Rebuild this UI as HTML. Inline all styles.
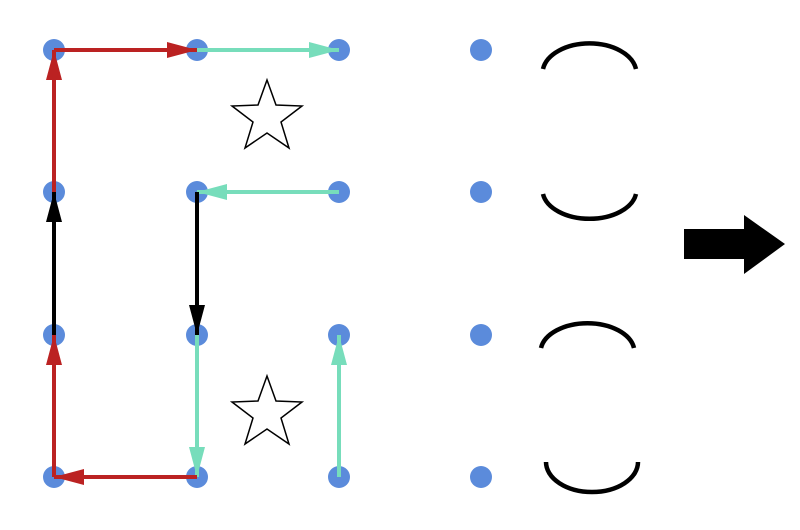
<!DOCTYPE html>
<html><head><style>html,body{margin:0;padding:0;background:#fff;}svg{display:block}</style></head>
<body>
<svg width="800" height="530" viewBox="0 0 800 530" xmlns="http://www.w3.org/2000/svg">
<defs>
<marker id="r" markerWidth="30" markerHeight="16" refX="30" refY="8" orient="auto" markerUnits="userSpaceOnUse" overflow="visible"><path d="M0,0 L30,8 L0,16 z" fill="#bb2222"/></marker>
<marker id="t" markerWidth="30" markerHeight="16" refX="30" refY="8" orient="auto" markerUnits="userSpaceOnUse" overflow="visible"><path d="M0,0 L30,8 L0,16 z" fill="#77ddbb"/></marker>
<marker id="k" markerWidth="30" markerHeight="16" refX="30" refY="8" orient="auto" markerUnits="userSpaceOnUse" overflow="visible"><path d="M0,0 L30,8 L0,16 z" fill="#000"/></marker>
</defs>
<g fill="#5b8bdb">
<circle cx="54" cy="50" r="11"/><circle cx="197" cy="50" r="11"/><circle cx="339" cy="50" r="11"/><circle cx="481" cy="50" r="11"/>
<circle cx="54" cy="192" r="11"/><circle cx="197" cy="192" r="11"/><circle cx="339" cy="192" r="11"/><circle cx="481" cy="192" r="11"/>
<circle cx="54" cy="335" r="11"/><circle cx="197" cy="335" r="11"/><circle cx="339" cy="335" r="11"/><circle cx="481" cy="335" r="11"/>
<circle cx="54" cy="477" r="11"/><circle cx="197" cy="477" r="11"/><circle cx="339" cy="477" r="11"/><circle cx="481" cy="477" r="11"/>
</g>
<g stroke-width="4" fill="none">
<line x1="54" y1="192" x2="54" y2="50" stroke="#bb2222" marker-end="url(#r)"/>
<line x1="54" y1="50" x2="197" y2="50" stroke="#bb2222" marker-end="url(#r)"/>
<line x1="197" y1="50" x2="339" y2="50" stroke="#77ddbb" marker-end="url(#t)"/>
<line x1="339" y1="192" x2="197" y2="192" stroke="#77ddbb" marker-end="url(#t)"/>
<line x1="197" y1="192" x2="197" y2="335" stroke="#000" marker-end="url(#k)"/>
<line x1="197" y1="335" x2="197" y2="477" stroke="#77ddbb" marker-end="url(#t)"/>
<line x1="339" y1="477" x2="339" y2="335" stroke="#77ddbb" marker-end="url(#t)"/>
<line x1="197" y1="477" x2="54" y2="477" stroke="#bb2222" marker-end="url(#r)"/>
<line x1="54" y1="477" x2="54" y2="335" stroke="#bb2222" marker-end="url(#r)"/>
<line x1="54" y1="335" x2="54" y2="192" stroke="#000" marker-end="url(#k)"/>
</g>
<g fill="#fff" stroke="#000" stroke-width="1.5">
<polygon points="267,80 276,105 302,106 281,122 289,148 267,133 245,148 253,122 232,106 258,105"/>
<polygon points="267,376 276,401 302,402 281,418 289,444 267,429 245,444 253,418 232,402 258,401"/>
</g>
<g stroke="#000" stroke-width="4.5" fill="none">
<path d="M543 69 A47 30 0 0 1 636 69"/>
<path d="M543 194 A47 29 0 0 0 636 194"/>
<path d="M541 348 A47 29 0 0 1 634 348"/>
<path d="M546 462 A46 30 0 0 0 638 462"/>
</g>
<polygon points="684,229 744,229 744,215 785,244 744,274 744,259 684,259" fill="#000"/>
</svg>
</body></html>
